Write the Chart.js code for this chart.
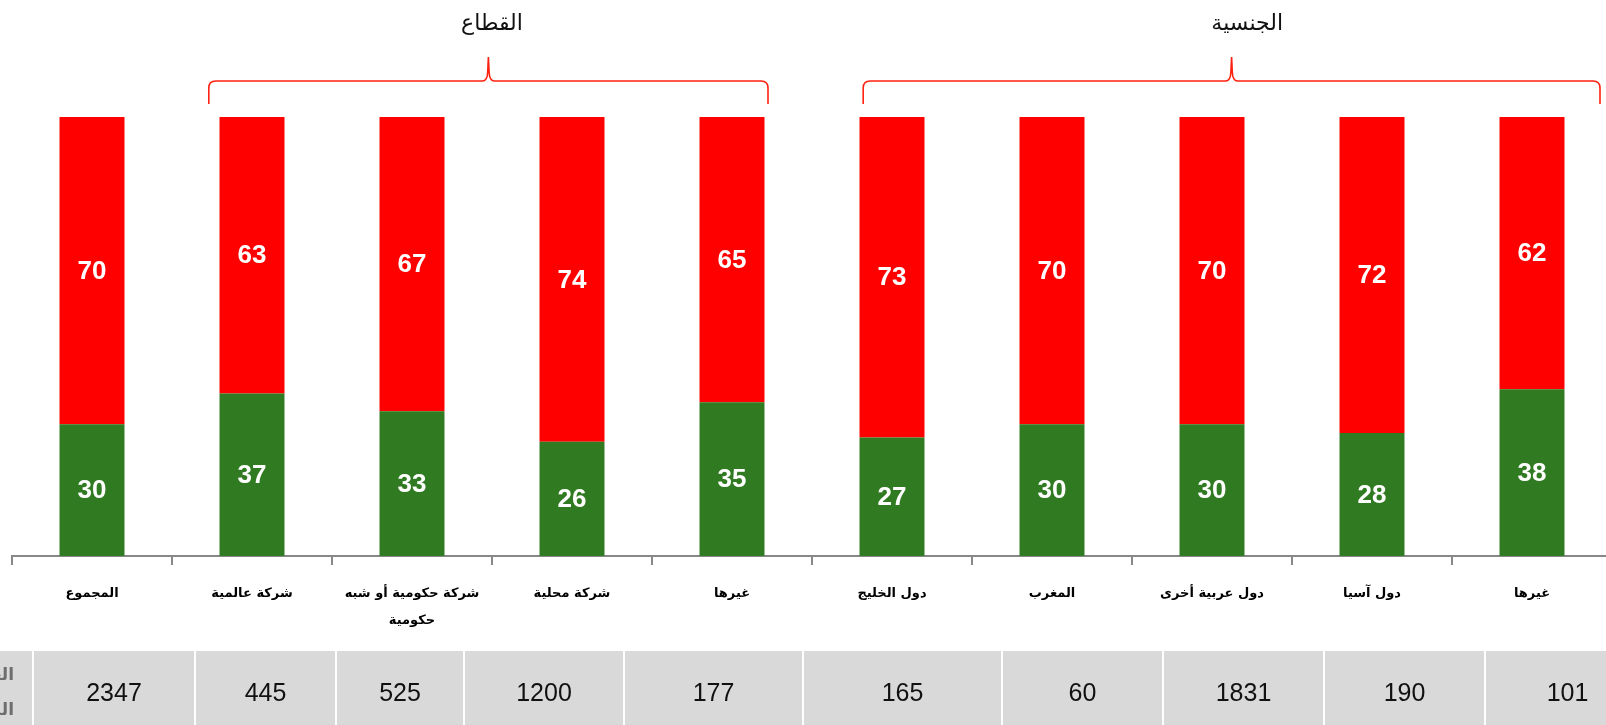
<!DOCTYPE html>
<html>
<head>
<meta charset="utf-8">
<script src="https://cdn.jsdelivr.net/npm/chart.js@4.4.0/dist/chart.umd.min.js"></script>
<style>
  html, body { margin:0; padding:0; background:#fff; overflow:hidden; width:1606px; height:725px; }
  #wrap { position:absolute; left:0; top:0; width:1612px; height:725px; }
  #tbl { position:absolute; left:0; top:651px; width:1606px; height:82px; }
  .cell { position:absolute; top:0; height:82px; background:#d9d9d9; display:flex; align-items:center; justify-content:center;
          font:25px "Liberation Sans", Arial, sans-serif; color:#111; }
  .hdr { justify-content:flex-end; font:bold 17px "DejaVu Sans", sans-serif; color:#6e6e6e; line-height:35px; }
  .hdr .inner { padding-right:18px; text-align:right; direction:rtl; }
  .hdr span { display:block; }
</style>
</head>
<body>
<div id="wrap"><canvas id="c" width="1612" height="725"></canvas></div>
<div id="tbl"></div>
<script>
// ---- data ----
const categories = [
  'المجموع',
  'شركة عالمية',
  ['شركة حكومية أو شبه', 'حكومية'],
  'شركة محلية',
  'غيرها',
  'دول الخليج',
  'المغرب',
  'دول عربية أخرى',
  'دول آسيا',
  'غيرها'
];
const greenValues = [30, 37, 33, 26, 35, 27, 30, 30, 28, 38];
const redValues   = [70, 63, 67, 74, 65, 73, 70, 70, 72, 62];
const sampleCounts = [2347, 445, 525, 1200, 177, 165, 60, 1831, 190, 101];
const tableHeader = ['العدد', 'المجيبين'];
const groupTitles = ['القطاع', 'الجنسية'];

// ---- layout (positions in category units / pixels) ----
const groupSpans = [[0.73, 4.225, 2.5], [4.82, 9.425, 7.22]];
const tableEdges = [-140, 33, 195, 336, 464, 624, 803, 1002, 1163, 1324, 1485, 1650];

// ---- table ----
const tbl = document.getElementById('tbl');
for (let i = 0; i < tableEdges.length - 1; i++) {
  const d = document.createElement('div');
  d.className = 'cell' + (i === 0 ? ' hdr' : '');
  d.style.left = (tableEdges[i] + 1) + 'px';
  d.style.width = (tableEdges[i + 1] - tableEdges[i] - 2) + 'px';
  if (i === 0) {
    d.innerHTML = '<div class="inner">' + tableHeader.map(t => '<span>' + t + '</span>').join('') + '</div>';
  } else {
    d.textContent = sampleCounts[i - 1];
  }
  tbl.appendChild(d);
}

// ---- plugins ----
const valueLabels = {
  id: 'valueLabels',
  afterDatasetsDraw(chart) {
    const ctx = chart.ctx;
    ctx.save();
    ctx.fillStyle = '#fff';
    ctx.font = 'bold 26px "Liberation Sans", Arial, sans-serif';
    ctx.textAlign = 'center';
    ctx.textBaseline = 'middle';
    chart.data.datasets.forEach((ds, di) => {
      const meta = chart.getDatasetMeta(di);
      meta.data.forEach((el, i) => {
        const yc = (el.y + el.base) / 2;
        ctx.fillText(String(ds.data[i]), el.x, yc + 1);
      });
    });
    ctx.restore();
  }
};

const brackets = {
  id: 'brackets',
  afterDraw(chart) {
    const ctx = chart.ctx;
    const xs = chart.scales.x;
    const yLine = 81, yEnd = 104, yPeak = 57, r = 7;
    ctx.save();
    groupSpans.forEach((g, gi) => {
      const x0 = xs.getPixelForValue(g[0]);
      const x1 = xs.getPixelForValue(g[1]);
      const xc = (x0 + x1) / 2;
      ctx.strokeStyle = '#f21';
      ctx.lineWidth = 1.6;
      ctx.beginPath();
      ctx.moveTo(x0, yEnd);
      ctx.lineTo(x0, yLine + r);
      ctx.quadraticCurveTo(x0, yLine, x0 + r, yLine);
      ctx.lineTo(xc - 6, yLine);
      ctx.quadraticCurveTo(xc - 1, yLine, xc - 0.7, yLine - 9);
      ctx.lineTo(xc, yPeak);
      ctx.lineTo(xc + 0.7, yLine - 9);
      ctx.quadraticCurveTo(xc + 1, yLine, xc + 6, yLine);
      ctx.lineTo(x1 - r, yLine);
      ctx.quadraticCurveTo(x1, yLine, x1, yLine + r);
      ctx.lineTo(x1, yEnd);
      ctx.stroke();
      ctx.fillStyle = '#111';
      ctx.font = '22px "DejaVu Sans", sans-serif';
      ctx.textAlign = 'center';
      ctx.textBaseline = 'middle';
      ctx.fillText(groupTitles[gi], xs.getPixelForValue(g[2]), 24);
    });
    ctx.restore();
  }
};

new Chart(document.getElementById('c'), {
  type: 'bar',
  data: {
    labels: categories,
    datasets: [
      { label: 'green', data: greenValues, backgroundColor: '#307b21', barPercentage: 0.406, categoryPercentage: 1 },
      { label: 'red', data: redValues, backgroundColor: '#ff0000', barPercentage: 0.406, categoryPercentage: 1 }
    ]
  },
  options: {
    responsive: false,
    devicePixelRatio: 1,
    animation: false,
    layout: { padding: { left: 12, right: 0, top: 117, bottom: 0 } },
    plugins: { legend: { display: false }, tooltip: { enabled: false } },
    scales: {
      x: {
        stacked: true,
        afterFit(scale) { scale.height = 169; },
        grid: { display: true, drawOnChartArea: false, drawTicks: true, tickLength: 9, color: '#888', lineWidth: 2, offset: true },
        border: { display: true, color: '#888', width: 2 },
        ticks: { color: '#000', padding: 15, maxRotation: 0, autoSkip: false,
                 font: { family: '"DejaVu Sans", sans-serif', size: 13, weight: 'bold', lineHeight: 2.1 } }
      },
      y: { stacked: true, display: false, min: 0, max: 100 }
    }
  },
  plugins: [valueLabels, brackets]
});
</script>
</body>
</html>
